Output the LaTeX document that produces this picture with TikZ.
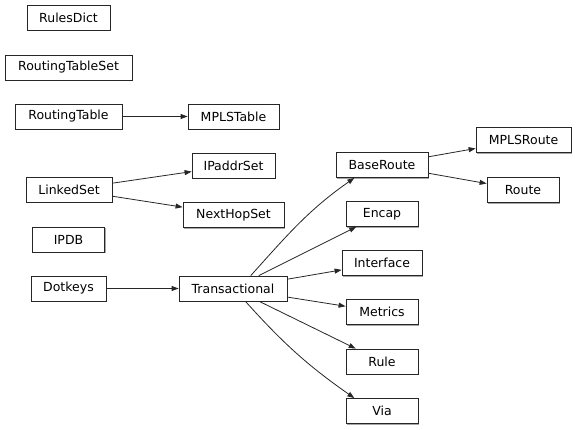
\documentclass[tikz,border=0pt]{standalone}
\usepackage{fontspec}
\setmainfont{DejaVu Sans}
\usetikzlibrary{arrows.meta,shadows}
\begin{document}
\begin{tikzpicture}[x=1pt,y=-1pt,
  box/.style={draw=black!85,line width=0.8pt,fill=white,inner sep=0pt,minimum height=25pt,
    font=\fontsize{12.5}{14}\selectfont,
    drop shadow={shadow xshift=1pt,shadow yshift=-1pt,fill=gray!70,opacity=1}},
  edge/.style={draw=black!85,line width=0.8pt,-{Triangle[length=7pt,width=5pt]}}]
\useasboundingbox (0,0) rectangle (576,429);
\node[box,minimum width=83pt]  (rd)  at (68.5,17.5)  {RulesDict};
\node[box,minimum width=127pt] (rts) at (68.5,67.5)  {RoutingTableSet};
\node[box,minimum width=107pt] (rt)  at (68.5,116.5) {RoutingTable};
\node[box,minimum width=91pt]  (mt)  at (233.5,116.5) {MPLSTable};
\node[box,minimum width=83pt]  (ip)  at (233.5,165.5) {IPaddrSet};
\node[box,minimum width=86pt]  (ls)  at (69,189.5)  {LinkedSet};
\node[box,minimum width=101pt] (nh)  at (233.5,215) {NextHopSet};
\node[box,minimum width=72pt]  (ipdb) at (68.5,239.5) {IPDB};
\node[box,minimum width=75pt]  (dk)  at (68.5,288.5) {Dotkeys};
\node[box,minimum width=108pt] (tr)  at (233,288.5) {Transactional};
\node[box,minimum width=92pt]  (br)  at (382,165)   {BaseRoute};
\node[box,minimum width=95pt]  (mr)  at (523.5,140) {MPLSRoute};
\node[box,minimum width=72pt]  (ro)  at (523,190)   {Route};
\node[box,minimum width=72pt]  (en)  at (382,214)   {Encap};
\node[box,minimum width=80pt]  (in)  at (382,263)   {Interface};
\node[box,minimum width=72pt]  (me)  at (382,312)   {Metrics};
\node[box,minimum width=72pt]  (ru)  at (382,361.5) {Rule};
\node[box,minimum width=72pt]  (via) at (382,411)   {Via};
\draw[edge] (rt) -- (mt);
\draw[edge] (ls) -- (ip);
\draw[edge] (ls) -- (nh);
\draw[edge] (dk) -- (tr);
\draw[edge] (br) -- (mr);
\draw[edge] (br) -- (ro);
\draw[edge] (tr) -- (en);
\draw[edge] (tr) -- (in);
\draw[edge] (tr) -- (me);
\draw[edge] (tr) -- (ru);
\draw[edge] (tr.36) to[out=48,in=-145] (br.-155);
\draw[edge] (tr.-46) to[out=-48,in=145] (via.155);
\end{tikzpicture}
\end{document}
